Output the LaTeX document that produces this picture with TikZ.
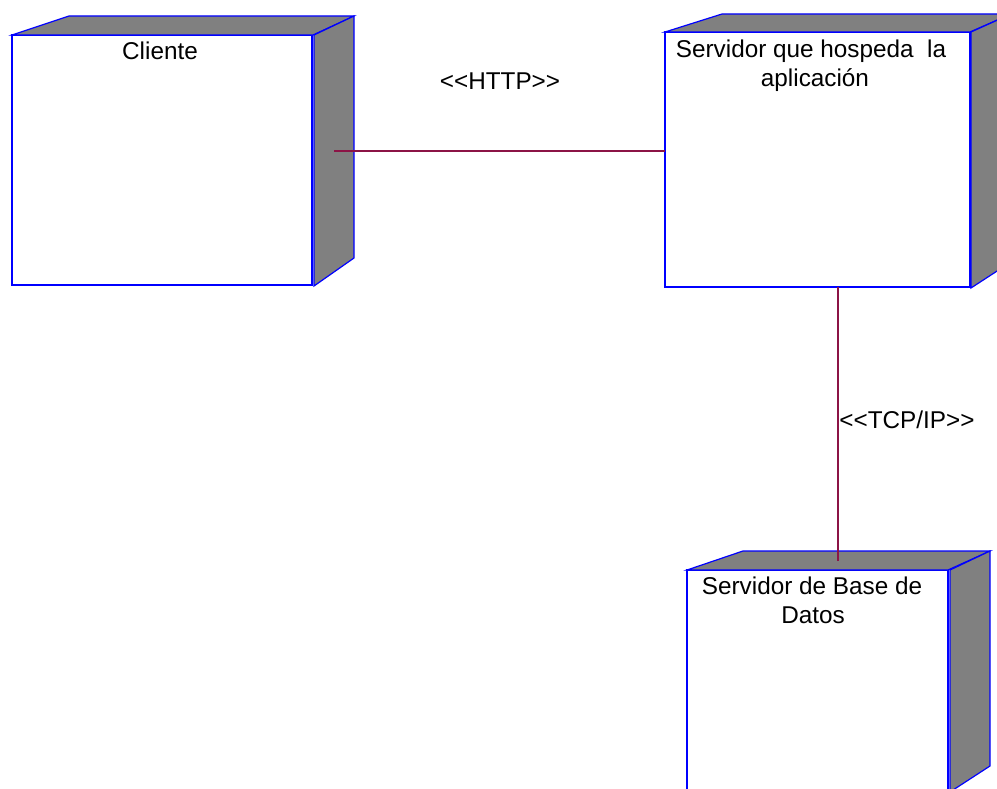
\documentclass[tikz,border=0pt]{standalone}
\usepackage{fontspec}
\setmainfont{Liberation Sans}
\definecolor{nodeblue}{RGB}{0,0,255}
\definecolor{nodegray}{RGB}{128,128,128}
\definecolor{linkred}{RGB}{140,20,70}
\begin{document}
\begin{tikzpicture}[x=1pt,y=-1pt,
  face/.style={draw=nodeblue, line width=1.2pt, line join=miter},
  front/.style={face, fill=white, rectangle, inner sep=0pt, outer sep=0pt, anchor=north west},
  shade/.style={face, fill=nodegray},
  link/.style={draw=linkred, line width=1.1pt},
  lbl/.style={anchor=base, inner sep=0pt, font=\fontsize{24.3}{29}\selectfont}]
\useasboundingbox (0,0) rectangle (997,789);
\clip (0,0) rectangle (997,789);

% Cliente node
\node[front, minimum width=300pt, minimum height=250pt] (cliente) at (12,35) {};
\draw[shade] (12,35) -- (69,16) -- (354,16) -- (313,35) -- cycle;
\draw[shade] (314,35) -- (354,16) -- (354,258) -- (314,286) -- cycle;
\node[lbl] (clienteTxt) at (160,60) {Cliente};

% application server node
\node[front, minimum width=305pt, minimum height=255pt] (servidor) at (665,32) {};
\draw[shade] (665,32) -- (722,14) -- (1011,14) -- (970,32) -- cycle;
\draw[shade] (971,32) -- (1011,14) -- (1011,262) -- (971,288) -- cycle;
\node[lbl] (servidorTxtA) at (811,58) {Servidor que hospeda\ \ la};
\node[lbl] (servidorTxtB) at (815,87) {aplicación};

% database server node
\node[front, minimum width=261pt, minimum height=222pt] (basedatos) at (687,570) {};
\draw[shade] (687,570) -- (743,551) -- (990,551) -- (948,570) -- cycle;
\draw[shade] (950,570) -- (990,551) -- (990,766) -- (950,792) -- cycle;
\node[lbl] (basedatosTxtA) at (812,594) {Servidor de Base de};
\node[lbl] (basedatosTxtB) at (813,623) {Datos};

% connections
\coordinate (httpEnd) at (334,151);
\draw[link] (httpEnd) -- (httpEnd -| servidor.west);
\node[lbl] (httpTxt) at (500,90) {{<}{<}HTTP{>}{>}};

\coordinate (tcpEnd) at (838,561);
\draw[link] (servidor.south -| tcpEnd) -- (tcpEnd);
\node[lbl] (tcpTxt) at (907,428) {{<}{<}TCP/IP{>}{>}};
\end{tikzpicture}
\end{document}
